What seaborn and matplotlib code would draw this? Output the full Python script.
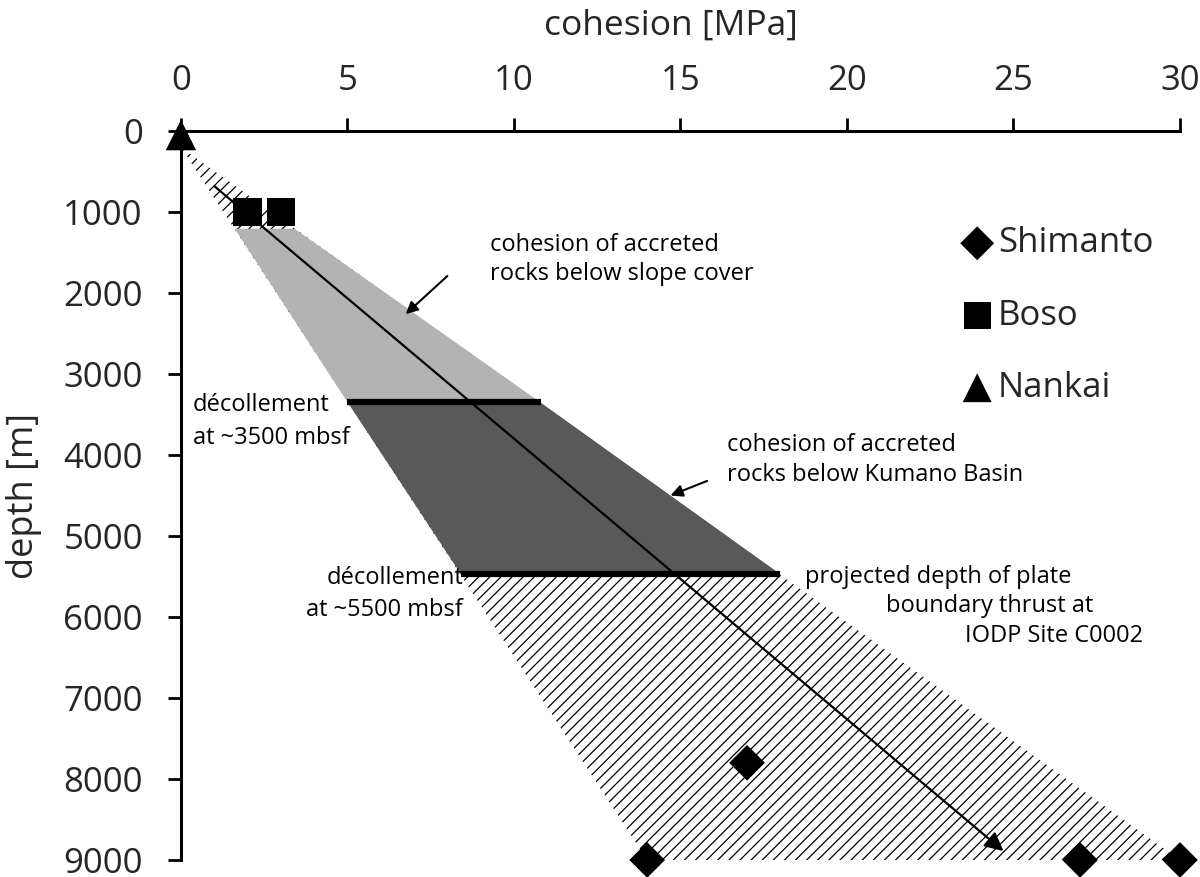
import numpy as np
import pandas as pd
import seaborn as sns
import matplotlib.pyplot as plt

# sample points (cohesion in MPa, depth in m)
shimanto_cohesion = [14, 17, 27, 30]
shimanto_depth = [9000, 7800, 9000, 9000]
boso_cohesion = [2, 3]
boso_depth = [1000, 1000]
nankai_cohesion = [0]
nankai_depth = [50]

# envelope of cohesion with depth
envelope_depth = [200, 9000]
envelope_left = [0, 14]
envelope_right = [0, 30]

# shaded zones
slope_depth = [1200, 3350]
slope_left = [1.6, 5.0]
slope_right = [3.4, 10.8]
kumano_depth = [3350, 5470]
kumano_left = [5.0, 8.4]
kumano_right = [10.8, 18.0]

# décollement bars
decol_depth = [3350, 5470]
decol_start = [5.0, 8.4]
decol_end = [10.8, 18.0]

# trend line
trend_cohesion = [1.0, 24.7]
trend_depth = [680, 8890]

x_ticks = [0, 5, 10, 15, 20, 25, 30]
y_ticks = [0, 1000, 2000, 3000, 4000, 5000, 6000, 7000, 8000, 9000]

sns.set_theme(style='white')
plt.rcParams['font.family'] = ['Open Sans', 'DejaVu Sans']
plt.rcParams['hatch.linewidth'] = 0.9

fig = plt.figure(figsize=(12, 8.77), dpi=100)
ax = fig.add_axes([0.1508, 0.0194, 0.8325, 0.8312])

ax.fill_betweenx(envelope_depth, envelope_left, envelope_right,
                 facecolor='white', edgecolor='black', hatch='///', linewidth=0, zorder=1)
ax.fill_betweenx(slope_depth, slope_left, slope_right, color='#b3b3b3', linewidth=0, zorder=2)
ax.fill_betweenx(kumano_depth, kumano_left, kumano_right, color='#595959', linewidth=0, zorder=2)
ax.hlines(decol_depth, decol_start, decol_end, color='black', linewidth=4.5, zorder=3)

ax.annotate('', xy=(trend_cohesion[1], trend_depth[1]), xytext=(trend_cohesion[0], trend_depth[0]),
            arrowprops=dict(arrowstyle='-|>', color='black', lw=1.6, mutation_scale=28,
                            shrinkA=0, shrinkB=0), zorder=4)

pts = pd.DataFrame({
    'cohesion': shimanto_cohesion + boso_cohesion + nankai_cohesion,
    'depth': shimanto_depth + boso_depth + nankai_depth,
    'site': ['Shimanto'] * 4 + ['Boso'] * 2 + ['Nankai'],
})
markers = {'Shimanto': 'D', 'Boso': 's', 'Nankai': '^'}
sizes = {'Shimanto': 330, 'Boso': 420, 'Nankai': 480}
for site in ['Shimanto', 'Boso', 'Nankai']:
    sub = pts[pts.site == site]
    sns.scatterplot(data=sub, x='cohesion', y='depth', marker=markers[site], s=sizes[site],
                    color='black', edgecolor='none', label=site, ax=ax, zorder=5, clip_on=False)

leg = ax.legend(loc='upper left', bbox_to_anchor=(0.731, 0.912), frameon=False, fontsize=25,
                labelspacing=1.1, handletextpad=-0.4, markerscale=0.95)

ax.set_xlim(0, 30)
ax.set_ylim(9000, 0)
ax.xaxis.tick_top()
ax.xaxis.set_label_position('top')
ax.set_xticks(x_ticks)
ax.set_yticks(y_ticks)
ax.tick_params(axis='x', top=True, bottom=False)
ax.tick_params(axis='y', left=True, right=False)
ax.tick_params(axis='both', direction='out', length=9.5, width=2, labelsize=25, color='black')
ax.tick_params(axis='x', pad=14)
ax.tick_params(axis='y', pad=18)
ax.set_xlabel('cohesion [MPa]', fontsize=25.5)
ax.xaxis.set_label_coords(0.49, 1.1317)
ax.set_ylabel('depth [m]', fontsize=26)
ax.yaxis.set_label_coords(-0.139, 0.5)
for side in ['right', 'bottom']:
    ax.spines[side].set_visible(False)
for side in ['top', 'left']:
    ax.spines[side].set_linewidth(2.2)
    ax.spines[side].set_color('black')

txt = dict(fontsize=17, color='black', zorder=6)
ax.text(9.28, 1260, 'cohesion of accreted\nrocks below slope cover', ha='left', va='top', linespacing=1.3, **txt)
ax.annotate('', xy=(6.75, 2260), xytext=(8.0, 1790),
            arrowprops=dict(arrowstyle='-|>', color='black', lw=1.5, mutation_scale=18, shrinkA=0, shrinkB=0))
ax.text(16.4, 3730, 'cohesion of accreted\nrocks below Kumano Basin', ha='left', va='top', linespacing=1.3, **txt)
ax.annotate('', xy=(14.7, 4500), xytext=(15.8, 4320),
            arrowprops=dict(arrowstyle='-|>', color='black', lw=1.5, mutation_scale=18, shrinkA=0, shrinkB=0))
ax.text(0.36, 3240, 'décollement\nat ~3500 mbsf', ha='left', va='top', linespacing=1.45, **txt)
ax.text(8.47, 5370, 'décollement\nat ~5500 mbsf', ha='right', va='top', linespacing=1.45, **txt)
ax.text(18.74, 5500, 'projected depth of plate', ha='left', va='center', **txt)
ax.text(21.17, 5870, 'boundary thrust at', ha='left', va='center', **txt)
ax.text(23.54, 6240, 'IODP Site C0002', ha='left', va='center', **txt)

fig.savefig('out.png', dpi=100)
